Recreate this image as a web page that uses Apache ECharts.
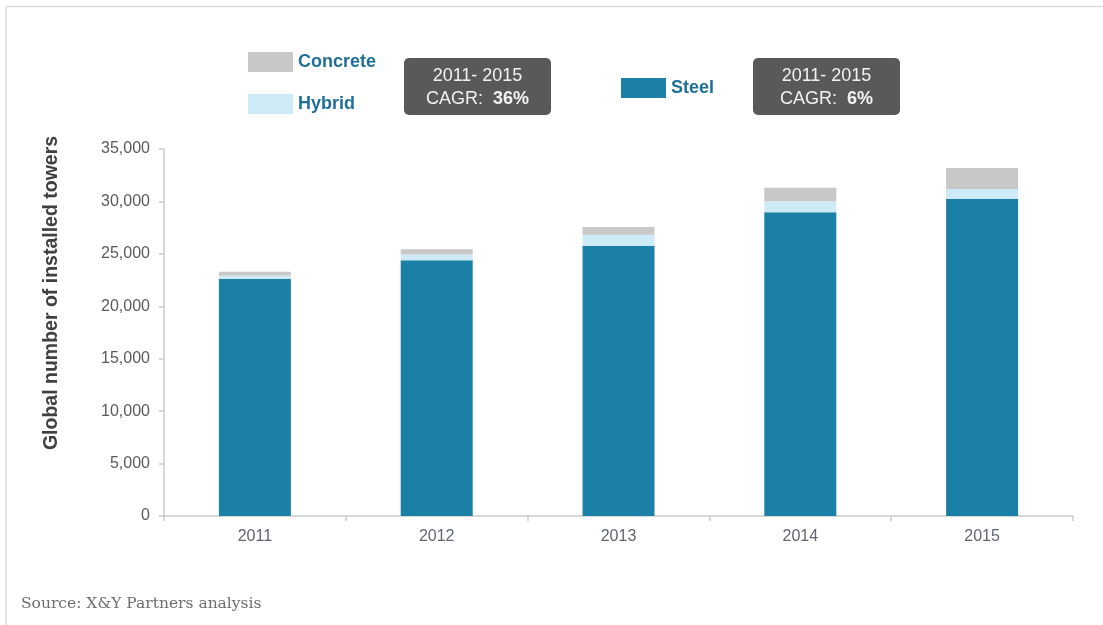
<!DOCTYPE html>
<html>
<head>
<meta charset="utf-8">
<script src="https://cdn.jsdelivr.net/npm/echarts@6/dist/echarts.min.js"></script>
<style>
html,body{margin:0;padding:0;background:#fff;}
#chart{width:1103px;height:625px;}
</style>
</head>
<body>
<div id="chart"></div>
<script>
const years = ['2011', '2012', '2013', '2014', '2015'];
const steel = [22600, 24380, 25780, 28960, 30230];
const hybrid = [320, 570, 1050, 1050, 950];
const concrete = [380, 480, 730, 1300, 2010];
const yTicks = [0, 5000, 10000, 15000, 20000, 25000, 30000, 35000];
const cagrHybridConcrete = '36%';
const cagrSteel = '6%';

const chart = echarts.init(document.getElementById('chart'));
const legendText = {color: '#1f6f97', fontWeight: 'bold', fontSize: 18, fontFamily: 'Liberation Sans, Arial', padding: [3, 0, 0, 0]};
function legend(name, left, top) {
  return {data: [name], left: left, top: top, itemWidth: 45, itemHeight: 20, itemGap: 4,
    icon: 'rect', textStyle: legendText, selectedMode: false, padding: 0};
}
function cagrBox(x, y, val) {
  return {
    type: 'group', x: x, y: y,
    children: [
      {type: 'rect', shape: {x: 0, y: 0, width: 147, height: 57, r: 5}, style: {fill: '#595959'}},
      {type: 'text', x: 73.5, y: 30, style: {
        text: '2011- 2015\nCAGR:  {b|' + val + '}', align: 'center', verticalAlign: 'middle',
        fill: '#f2f2f2', font: '18px "Liberation Sans", Arial', lineHeight: 23,
        rich: {b: {fontWeight: 'bold', fontSize: 18, fill: '#f2f2f2', fontFamily: 'Liberation Sans'}}
      }}
    ]
  };
}
chart.setOption({
  animation: false,
  backgroundColor: '#fff',
  grid: {left: 164, right: 30, top: 149, bottom: 109, containLabel: false},
  legend: [legend('Concrete', 248, 52), legend('Hybrid', 248, 94), legend('Steel', 621, 78)],
  xAxis: {
    type: 'category', data: years,
    axisLine: {lineStyle: {color: '#c8cacd', width: 1.5}},
    axisTick: {show: true, length: 5, lineStyle: {color: '#c8cacd', width: 1.5}},
    axisLabel: {color: '#5f6470', fontSize: 16, fontFamily: 'Liberation Sans, Arial', margin: 13}
  },
  yAxis: {
    type: 'value', min: yTicks[0], max: yTicks[yTicks.length - 1], interval: 5000,
    axisLine: {show: true, lineStyle: {color: '#c8cacd', width: 1.5}},
    axisTick: {show: true, length: 5, lineStyle: {color: '#c8cacd', width: 1.5}},
    splitLine: {show: false},
    axisLabel: {color: '#5a5a5a', fontSize: 16, fontFamily: 'Liberation Sans, Arial', margin: 14,
      formatter: v => v.toLocaleString('en-US')}
  },
  series: [
    {name: 'Steel', type: 'bar', stack: 't', data: steel, barWidth: 72, itemStyle: {color: '#1b80a6'}},
    {name: 'Hybrid', type: 'bar', stack: 't', data: hybrid, barWidth: 72, itemStyle: {color: '#cdeaf6'}},
    {name: 'Concrete', type: 'bar', stack: 't', data: concrete, barWidth: 72, itemStyle: {color: '#c8c8c8'}}
  ],
  graphic: [
    {type: 'polyline', shape: {points: [[6, 625], [6, 6.5], [1103, 6.5]]}, style: {stroke: '#dcdcdc', lineWidth: 1.5, fill: null}},
    cagrBox(404, 58, cagrHybridConcrete),
    cagrBox(753, 58, cagrSteel),
    {type: 'text', x: 52, y: 293, rotation: Math.PI / 2, style: {
      text: 'Global number of installed towers', align: 'center', verticalAlign: 'middle',
      fill: '#404040', font: 'bold 19.5px "Liberation Sans", Arial'}},
    {type: 'text', x: 21, y: 604, style: {
      text: 'Source: X&Y Partners analysis', align: 'left', verticalAlign: 'middle',
      fill: '#6e6e6e', font: '15.5px "DejaVu Serif", serif'}}
  ]
});
</script>
</body>
</html>
